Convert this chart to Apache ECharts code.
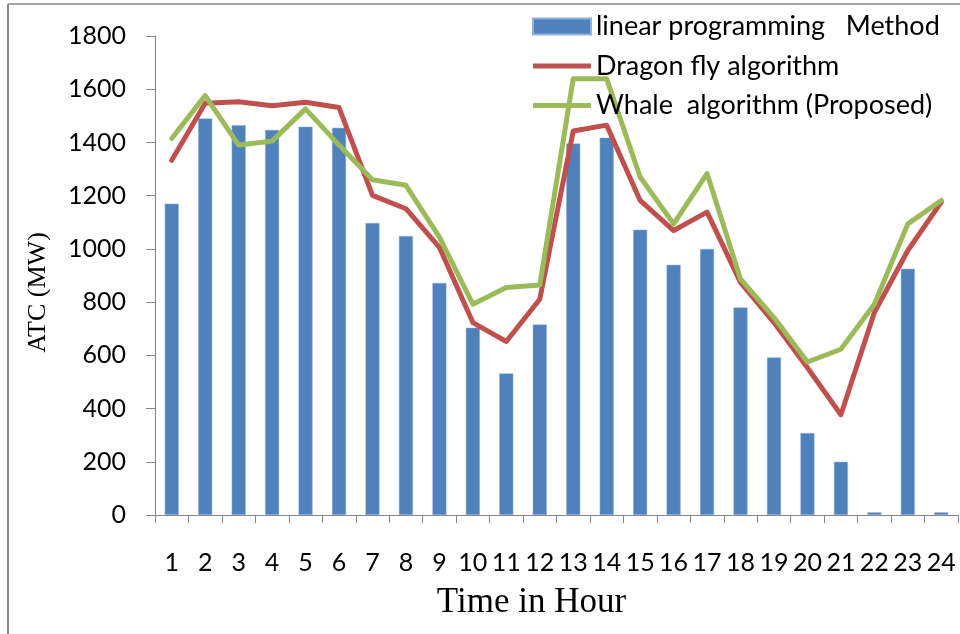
<!DOCTYPE html>
<html>
<head>
<meta charset="utf-8">
<script src="https://cdn.jsdelivr.net/npm/echarts@6/dist/echarts.min.js"></script>
<style>
html,body{margin:0;padding:0;background:#fff;}
#chart{width:960px;height:634px;}
</style>
</head>
<body>
<div id="chart"></div>
<script>
const hours = ['1','2','3','4','5','6','7','8','9','10','11','12','13','14','15','16','17','18','19','20','21','22','23','24'];
const linearProgramming = [1170,1490,1465,1447,1459,1455,1097,1048,872,704,532,716,1396,1418,1072,940,1000,780,592,308,200,10,925,10];
const dragonFly = [1333,1547,1553,1538,1551,1531,1201,1151,1006,723,652,811,1443,1465,1182,1069,1138,874,723,553,377,761,994,1176];
const whale = [1415,1576,1390,1405,1526,1390,1260,1239,1044,792,855,864,1639,1639,1270,1094,1283,887,742,575,623,792,1094,1182];
const seriesNames = ['linear programming   Method','Dragon fly algorithm','Whale  algorithm (Proposed)'];

const chart = echarts.init(document.getElementById('chart'), null, {renderer:'canvas'});
const axisColor = '#868686';
const sansFont = 'Lato';
const lineIcon = 'path://M0,0H58V5H0Z';
chart.setOption({
  animation:false,
  backgroundColor:'#ffffff',
  grid:{left:155, right:2, top:36, bottom:119, containLabel:false},
  legend:{
    orient:'vertical', left:527, top:8,
    itemWidth:58, itemHeight:16, itemGap:12.5,
    textStyle:{fontFamily:sansFont, fontSize:27, color:'#000'},
    data:[
      {name:seriesNames[0], icon:'rect'},
      {name:seriesNames[1], icon:lineIcon},
      {name:seriesNames[2], icon:lineIcon}
    ]
  },
  xAxis:{
    type:'category', data:hours,
    boundaryGap:true,
    axisLine:{lineStyle:{color:axisColor, width:1}},
    axisTick:{show:true, length:8, lineStyle:{color:axisColor}},
    axisLabel:{margin:35, fontFamily:sansFont, fontSize:25, color:'#000', interval:0},
    name:'Time in Hour', nameLocation:'middle', nameGap:70,
    nameTextStyle:{fontFamily:'Liberation Serif', fontSize:35, color:'#000', padding:[0,50,0,0]}
  },
  yAxis:{
    type:'value', min:0, max:1800, interval:200,
    axisLine:{show:true, lineStyle:{color:axisColor, width:1}},
    axisTick:{show:true, length:9, lineStyle:{color:axisColor}},
    splitLine:{show:false},
    axisLabel:{margin:29, fontFamily:sansFont, fontSize:25, color:'#000', formatter:function(v){return String(v);}},
    name:'ATC (MW)', nameLocation:'middle', nameGap:104, nameRotate:90,
    nameTextStyle:{fontFamily:'Liberation Serif', fontSize:26, color:'#000', padding:[0,34,0,0]}
  },
  series:[
    {
      name:seriesNames[0], type:'bar', data:linearProgramming,
      barWidth:14,
      itemStyle:{color:'#4F81BD', borderColor:'#8FB0D8', borderWidth:0.5}
    },
    {
      name:seriesNames[1], type:'line', data:dragonFly,
      showSymbol:false, symbol:'none',
      lineStyle:{color:'#C0504D', width:5, cap:'round', join:'round'},
      itemStyle:{color:'#C0504D'}
    },
    {
      name:seriesNames[2], type:'line', data:whale,
      showSymbol:false, symbol:'none',
      lineStyle:{color:'#9BBB59', width:5, cap:'round', join:'round'},
      itemStyle:{color:'#9BBB59'}
    }
  ],
  graphic:[
    {type:'line', shape:{x1:8, y1:4, x2:8, y2:634}, style:{stroke:'#888', lineWidth:2}},
    {type:'line', shape:{x1:8, y1:4, x2:960, y2:4}, style:{stroke:'#888', lineWidth:1.5}}
  ]
});
</script>
</body>
</html>
